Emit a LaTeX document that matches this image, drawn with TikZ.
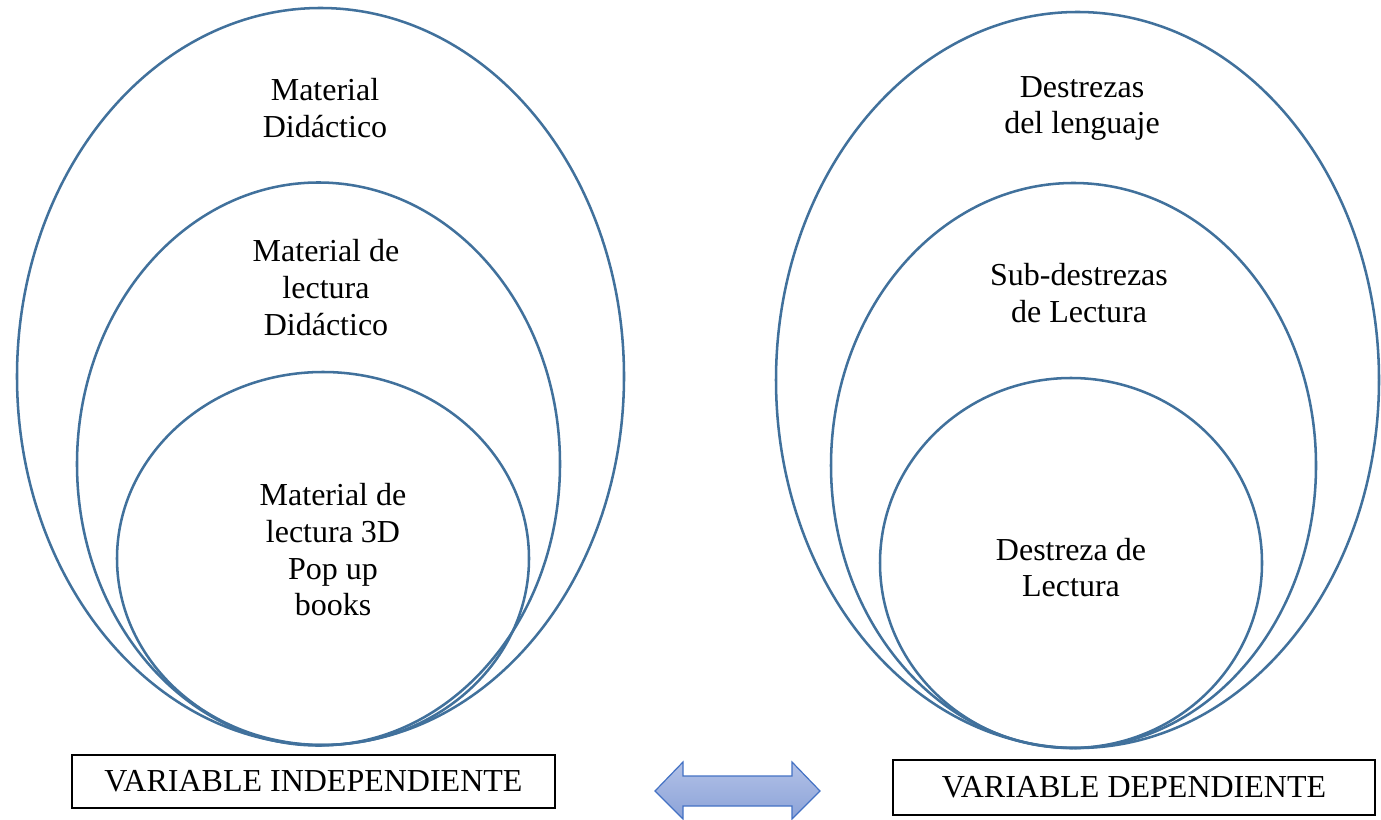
\documentclass[tikz,border=0pt]{standalone}
\usepackage{fontspec}
\setmainfont{Liberation Serif}

\tikzset{every picture/.style={line width=0.75pt}}
\tikzset{
  ring/.style={draw={rgb, 255:red, 65; green, 113; blue, 156}, line width=1.9pt},
  lbl/.style={anchor=center, inner sep=0.75pt, align=center, font=\fontsize{24}{27.5}\selectfont},
  varbox/.style={draw=black, line width=1pt, inner sep=0pt, align=center, font=\fontsize{24}{27.5}\selectfont}
}

\begin{document}
\begin{tikzpicture}[x=0.75pt,y=0.75pt,yscale=-1,xscale=1]
        \useasboundingbox (0,0) rectangle (1381,820);

        %Ellipses left
        \draw [ring] (320.5,376.5) ellipse (303.5 and 368.5);
        \draw [ring] (318.5,464) ellipse (241.5 and 281.5);
        \draw [ring] (323,558.5) ellipse (206 and 186.5);
        %Ellipses right
        \draw [ring] (1077.5,380) ellipse (301.5 and 368);
        \draw [ring] (1073.5,465.5) ellipse (242.5 and 282.5);
        \draw [ring] (1071,563) ellipse (191 and 185);

        % Text Node
        \node [lbl] (matdid) at (325,108) {Material\\Didáctico};
        % Text Node
        \node [lbl] (matlec) at (326,287.5) {Material de\\lectura\\Didáctico};
        % Text Node
        \node [lbl] (popup) at (333,550) {Material de\\lectura 3D\\Pop up\\books};
        % Text Node
        \node [lbl] (destlen) at (1082,108.5) {Destrezas\\del lenguaje};
        % Text Node
        \node [lbl] (subdest) at (1079,293) {Sub-destrezas\\de Lectura};
        % Text Node
        \node [lbl] (destlec) at (1071,567.5) {Destreza de\\Lectura};

        % Boxes
        \node [varbox, minimum width=483*0.75pt, minimum height=53*0.75pt] (vind) at (313.5,781.5) {VARIABLE INDEPENDIENTE};
        \node [varbox, minimum width=482*0.75pt, minimum height=55*0.75pt] (vdep) at (1134,787.5) {VARIABLE DEPENDIENTE};

        %Left Right Arrow
        \draw [draw={rgb, 255:red, 68; green, 114; blue, 196}, line width=0.9pt,
               top color={rgb, 255:red, 178; green, 193; blue, 231},
               bottom color={rgb, 255:red, 140; green, 163; blue, 216}]
          (655,791) -- (683,762) -- (683,776) -- (792,776) -- (792,762) -- (820,791)
          -- (792,819) -- (792,806) -- (683,806) -- (683,819) -- cycle ;
\end{tikzpicture}
\end{document}
